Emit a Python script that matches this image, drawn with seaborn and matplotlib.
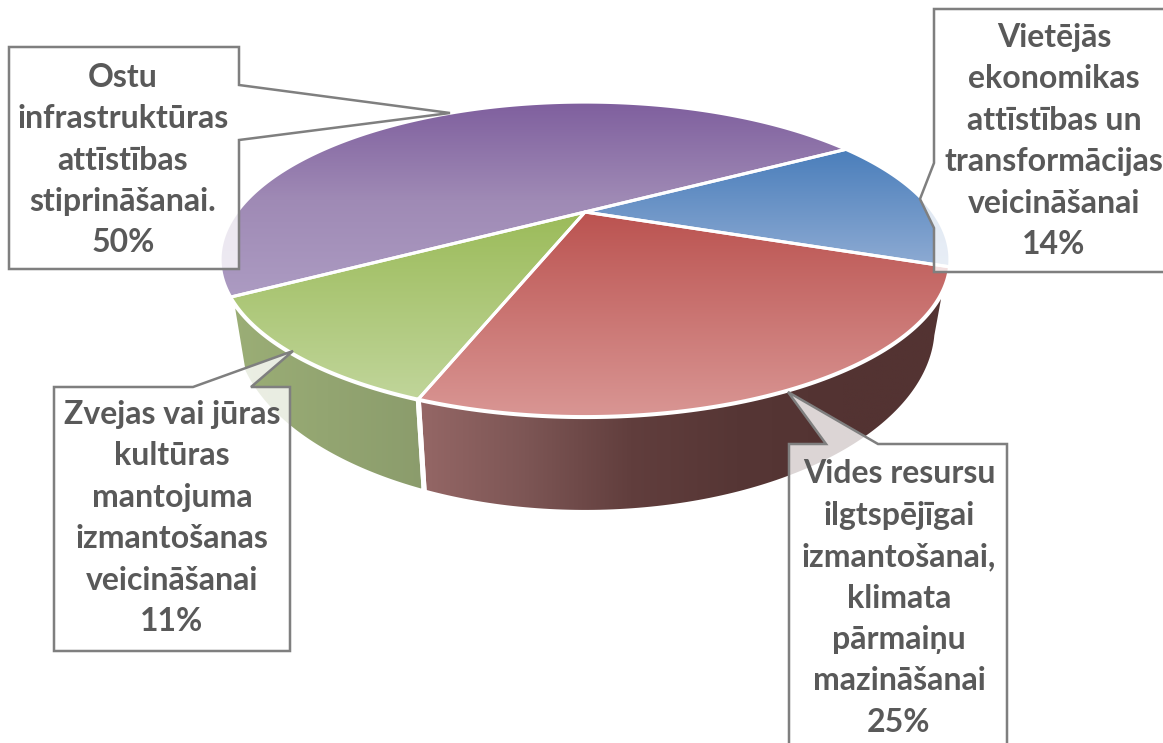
import numpy as np
import seaborn as sns
import matplotlib.pyplot as plt
from matplotlib.patches import Polygon

# clockwise from the top right, same order as the slices in the picture
categories = [
    "Vietējās\nekonomikas\nattīstības un\ntransformācijas\nveicināšanai",
    "Vides resursu\nilgtspējīgai\nizmantošanai,\nklimata\npārmaiņu\nmazināšanai",
    "Zvejas vai jūras\nkultūras\nmantojuma\nizmantošanas\nveicināšanai",
    "Ostu\ninfrastruktūras\nattīstības\nstiprināšanai.",
]
values = [14, 25, 11, 50]

top_colors = [
    ["#4a7ebb", "#8eabd3"],
    ["#bb5350", "#d99694"],
    ["#9bbb59", "#c0d59a"],
    ["#7f5f9e", "#9f8ab5", "#ac9bc2"],
]
wall_colors = {
    1: ["#956766", "#7d5655", "#613e3d", "#563635", "#533332", "#533332"],
    2: ["#9bae76", "#93a571", "#8b9c6c"],
}

# box outline (with the callout tail), then text centre
boxes = [
    ([(934, 9), (1185, 9), (1185, 272), (934, 272), (934, 228), (920, 199), (934, 163)], (1054, 141)),
    ([(789, 444), (826, 444), (788, 392), (878, 444), (1007, 444), (1007, 770), (789, 770)], (899, 598)),
    ([(54, 387), (193, 387), (293, 351), (251, 387), (290, 387), (290, 651), (54, 651)], (172, 518)),
    ([(9, 47), (239, 47), (239, 85), (450, 113), (239, 140), (239, 269), (9, 269)], (123, 160)),
]

TOP = dict(cx=585, cy=212, a=348, b=143, k=0.301)
BOTTOM = dict(cx=585, cy=271, a=336, b=169, k=0.30)
START_ANGLE = 30.3


def project(theta, p):
    # circle -> perspective ellipse, theta in degrees
    x = np.cos(np.radians(theta))
    y = np.sin(np.radians(theta))
    w = 1 + p['k'] * y
    return np.column_stack([p['cx'] + p['a'] * x / w, p['cy'] - p['b'] * y / w])


def gradient(ax, poly, colors, horizontal=False, zorder=1, lw=2.2):
    cmap = sns.blend_palette(colors, as_cmap=True)
    ramp = np.linspace(0, 1, 256)
    ramp = ramp.reshape(1, -1) if horizontal else ramp.reshape(-1, 1)
    x0, y0 = poly.min(axis=0)
    x1, y1 = poly.max(axis=0)
    im = ax.imshow(ramp, cmap=cmap, extent=(x0, x1, y1, y0), aspect='auto',
                   interpolation='bilinear', zorder=zorder, vmin=0, vmax=1)
    clip = Polygon(poly, closed=True, transform=ax.transData, fc='none', ec='none')
    ax.add_patch(clip)
    im.set_clip_path(clip)
    ax.add_patch(Polygon(poly, closed=True, fc='none', ec='white', lw=lw,
                         zorder=zorder + 0.1, joinstyle='round'))


sns.set_theme(style='white')
plt.rcParams['font.family'] = ['Lato', 'DejaVu Sans']

fig = plt.figure(figsize=(11.63, 7.43), dpi=100, facecolor='white')
ax = fig.add_axes([0, 0, 1, 1])

edges = START_ANGLE - np.concatenate([[0], np.cumsum(values)]) * 3.6

# side walls first, only the two that face the viewer
for i, colors in wall_colors.items():
    theta = np.linspace(edges[i], edges[i + 1], 120)
    poly = np.vstack([project(theta, TOP), project(theta[::-1], BOTTOM)])
    gradient(ax, poly, colors, horizontal=True, zorder=1, lw=3.6)

for i, colors in enumerate(top_colors):
    theta = np.linspace(edges[i], edges[i + 1], 200)
    poly = np.vstack([[[TOP['cx'], TOP['cy']]], project(theta, TOP)])
    gradient(ax, poly, colors, zorder=2)

for i, (outline, centre) in enumerate(boxes):
    ax.add_patch(Polygon(outline, closed=True, fc=(1, 1, 1, 0.8), ec='#7f7f7f', lw=1.8, zorder=3))
    ax.text(centre[0], centre[1], f"{categories[i]}\n{values[i]}%", ha='center', va='center',
            ma='center', fontsize=23, fontweight='bold', color='#595959', linespacing=1.52, zorder=4)

ax.set_xlim(0, 1163)
ax.set_ylim(743, 0)
ax.axis('off')

fig.savefig('out.png', dpi=100, facecolor='white')
